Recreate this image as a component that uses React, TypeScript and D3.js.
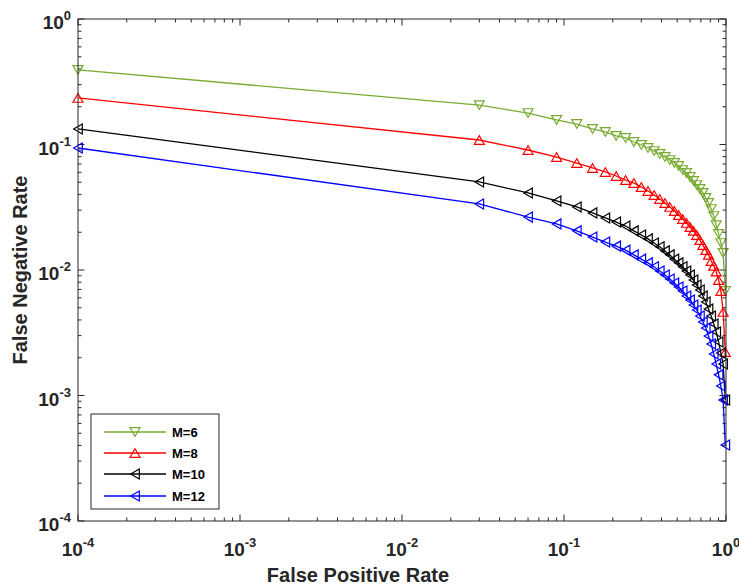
import React from "react";
import * as d3 from "d3";

const fpr = [0.0001, 0.03, 0.06, 0.09, 0.12, 0.15, 0.18, 0.21, 0.24, 0.27, 0.30, 0.33, 0.36, 0.39, 0.42, 0.45, 0.48, 0.51, 0.54, 0.57, 0.60, 0.63, 0.66, 0.69, 0.72, 0.75, 0.78, 0.81, 0.84, 0.87, 0.90, 0.93, 0.96, 0.99];

const fnrM6 = [0.393, 0.206, 0.178, 0.157, 0.1456, 0.133, 0.126, 0.117, 0.1127, 0.1047, 0.0991, 0.0938, 0.0887, 0.084, 0.0795, 0.0752, 0.0712, 0.0674, 0.0626, 0.0593, 0.0551, 0.0512, 0.0475, 0.0442, 0.0411, 0.0375, 0.0342, 0.0306, 0.0269, 0.0228, 0.0194, 0.0164, 0.0137, 0.0068];
const fnrM8 = [0.235, 0.1086, 0.0904, 0.0795, 0.0712, 0.065, 0.0604, 0.0561, 0.0521, 0.0493, 0.0458, 0.0426, 0.0396, 0.0368, 0.0342, 0.0318, 0.0295, 0.0274, 0.0255, 0.0237, 0.022, 0.0205, 0.019, 0.0173, 0.0158, 0.0144, 0.0132, 0.0118, 0.0108, 0.0097, 0.0083, 0.0068, 0.00463, 0.00222];
const fnrM10 = [0.133, 0.0503, 0.0411, 0.0355, 0.0318, 0.0285, 0.026, 0.0241, 0.0224, 0.0205, 0.019, 0.0177, 0.0164, 0.0153, 0.0142, 0.0132, 0.0122, 0.0114, 0.0106, 0.00982, 0.00912, 0.00832, 0.00759, 0.00693, 0.00621, 0.00556, 0.00489, 0.0043, 0.00371, 0.00321, 0.00267, 0.00218, 0.00178, 0.00092];
const fnrM12 = [0.0938, 0.0336, 0.0264, 0.0233, 0.0205, 0.0183, 0.0167, 0.0155, 0.0144, 0.0132, 0.0122, 0.0114, 0.0106, 0.00982, 0.00912, 0.00848, 0.00787, 0.00732, 0.0068, 0.00621, 0.00577, 0.00526, 0.0048, 0.0043, 0.00385, 0.00345, 0.00298, 0.00257, 0.00214, 0.00178, 0.00146, 0.00119, 0.00092, 0.000403];

const seriesNames = ["M=6", "M=8", "M=10", "M=12"];
const seriesColors = ["#77AC30", "#FF0000", "#000000", "#0000FF"];
const seriesMarkers = ["down", "up", "left", "left"];
const seriesValues = [fnrM6, fnrM8, fnrM10, fnrM12];

const tickExps = [-4, -3, -2, -1, 0];
const xLabel = "False Positive Rate";
const yLabel = "False Negative Rate";

const W = 739, H = 587;
const L = 78, R = 726, T = 19, B = 521;
const FONT = "'Liberation Sans', Arial, Helvetica, sans-serif";
const AX = "#262626";

function markerPath(kind: string, cx: number, cy: number) {
  const hw = 5.0, hh = 4.3;
  if (kind === "down") return `M${cx - hw},${cy - hh}L${cx + hw},${cy - hh}L${cx},${cy + hh}Z`;
  if (kind === "up") return `M${cx - hw},${cy + hh}L${cx + hw},${cy + hh}L${cx},${cy - hh}Z`;
  return `M${cx + hh},${cy - hw}L${cx + hh},${cy + hw}L${cx - hh},${cy}Z`;
}

export default function App() {
  const x = d3.scaleLog().domain([1e-4, 1]).range([L, R]);
  const y = d3.scaleLog().domain([1e-4, 1]).range([B, T]);
  const line = d3.line<[number, number]>().x(d => x(d[0])).y(d => y(d[1]));

  const minors: number[] = [];
  for (let e = -4; e < 0; e++) for (let k = 2; k <= 9; k++) minors.push(k * Math.pow(10, e));
  const majors = tickExps.map(e => Math.pow(10, e));

  const legX = 91, legY = 414, legW = 128, legH = 95;
  const rowYs = [432, 453, 474, 496];

  return (
    <svg width={W} height={H} style={{ position: "fixed", left: 0, top: 0, background: "#fff" }} fontFamily={FONT}>
      <rect x={0} y={0} width={W} height={H} fill="#fff" />
      <g stroke={AX} strokeWidth={1}>
        {minors.map((v, i) => (
          <g key={"mn" + i}>
            <line x1={x(v)} x2={x(v)} y1={B} y2={B - 3.5} />
            <line x1={x(v)} x2={x(v)} y1={T} y2={T + 3.5} />
            <line x1={L} x2={L + 3.5} y1={y(v)} y2={y(v)} />
            <line x1={R} x2={R - 3.5} y1={y(v)} y2={y(v)} />
          </g>
        ))}
        {majors.map((v, i) => (
          <g key={"mj" + i}>
            <line x1={x(v)} x2={x(v)} y1={B} y2={B - 6.5} />
            <line x1={x(v)} x2={x(v)} y1={T} y2={T + 6.5} />
            <line x1={L} x2={L + 6.5} y1={y(v)} y2={y(v)} />
            <line x1={R} x2={R - 6.5} y1={y(v)} y2={y(v)} />
          </g>
        ))}
      </g>
      {seriesValues.map((vals, si) => {
        const pts: [number, number][] = fpr.map((f, i) => [f, vals[i]]);
        return (
          <g key={"s" + si}>
            <path d={line(pts) || ""} fill="none" stroke={seriesColors[si]} strokeWidth={1.3} />
            {pts.map((p, i) => (
              <path key={i} d={markerPath(seriesMarkers[si], x(p[0]), y(p[1]))} fill="none" stroke={seriesColors[si]} strokeWidth={1.2} />
            ))}
          </g>
        );
      })}
      <rect x={L} y={T} width={R - L} height={B - T} fill="none" stroke={AX} strokeWidth={1} />
      {tickExps.map(e => (
        <text key={"xl" + e} x={x(Math.pow(10, e))} y={556} textAnchor="middle" fontWeight="bold" fill={AX}>
          <tspan fontSize={19}>10</tspan>
          <tspan fontSize={13} dy={-9}>{e}</tspan>
        </text>
      ))}
      {tickExps.map(e => (
        <text key={"yl" + e} x={71} y={y(Math.pow(10, e)) + 10} textAnchor="end" fontWeight="bold" fill={AX}>
          <tspan fontSize={19}>10</tspan>
          <tspan fontSize={13} dy={-9}>{e}</tspan>
        </text>
      ))}
      <text x={358} y={582} textAnchor="middle" fontWeight="bold" fontSize={20} fill={AX}>{xLabel}</text>
      <text transform={`translate(27,${(T + B) / 2}) rotate(-90)`} textAnchor="middle" fontWeight="bold" fontSize={20} fill={AX}>{yLabel}</text>
      <rect x={legX} y={legY} width={legW} height={legH} fill="#fff" stroke={AX} strokeWidth={1} />
      {seriesNames.map((n, i) => (
        <g key={"lg" + i}>
          <line x1={104} x2={166} y1={rowYs[i]} y2={rowYs[i]} stroke={seriesColors[i]} strokeWidth={1.3} />
          <path d={markerPath(seriesMarkers[i], 135, rowYs[i])} fill="none" stroke={seriesColors[i]} strokeWidth={1.2} />
          <text x={172} y={rowYs[i] + 4.5} fontSize={13} fontWeight="bold" fill="#000">{n}</text>
        </g>
      ))}
    </svg>
  );
}
